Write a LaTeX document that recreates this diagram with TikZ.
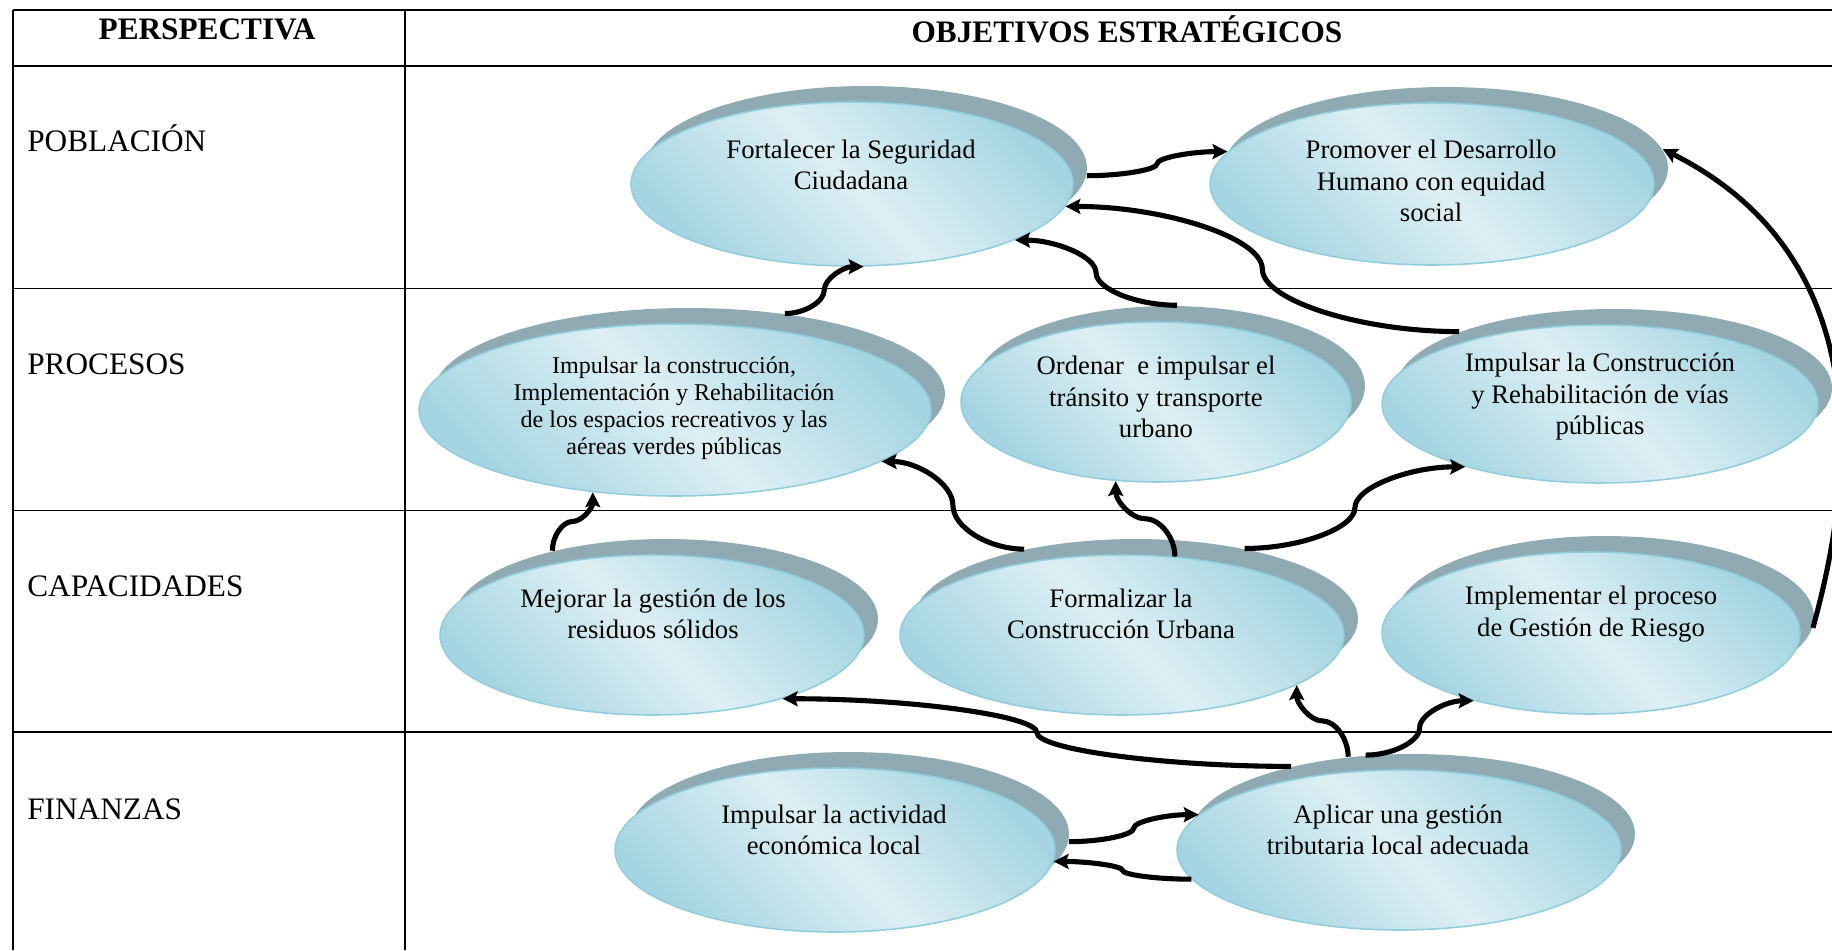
\documentclass[tikz,border=0pt]{standalone}
\usepackage{fontspec}
\setmainfont{Liberation Serif}
\usetikzlibrary{arrows.meta,shapes.geometric,shadows,calc}

\definecolor{sombra}{HTML}{8FAAB2}
\definecolor{borde}{HTML}{92CDDC}
\definecolor{celesteA}{HTML}{A5D5E2}
\definecolor{celesteB}{HTML}{DDEFF4}

\tikzset{
  tabla/.style={line width=1.1pt},
  objetivo/.style={ellipse, draw=borde, line width=0.9pt, inner sep=0pt,
    left color=celesteA, right color=celesteA, middle color=celesteB, shading angle=135,
    general shadow={fill=sombra, shadow xshift=0.28cm, shadow yshift=0.32cm}},
  cabecera/.style={font=\fontsize{17.8}{21}\selectfont\bfseries, inner sep=0pt},
  perspectiva/.style={font=\fontsize{17.8}{21}\selectfont, inner sep=0pt, anchor=base west},
  texto/.style={align=center, font=\fontsize{15.2}{17.9}\selectfont, inner sep=0pt},
  textochico/.style={align=center, font=\fontsize{13.7}{15.3}\selectfont, inner sep=0pt},
  flecha/.style={line width=2.9pt, -{Stealth[length=8.5pt,width=8.5pt,inset=1.5pt]}},
  curvah/.style={to path={let \p1=(\tikztostart), \p2=(\tikztotarget), \p3=($(\p1)!.5!(\p2)$) in
     .. controls ($(\p1)!.5!(\x3,\y1)$) and ($(\x3,\y1)!.5!(\p3)$) .. (\p3)
     .. controls ($(\p3)!.5!(\x3,\y2)$) and ($(\x3,\y2)!.5!(\p2)$) .. (\p2)}},
  curvav/.style={to path={let \p1=(\tikztostart), \p2=(\tikztotarget), \p3=($(\p1)!.5!(\p2)$) in
     .. controls ($(\p1)!.5!(\x1,\y3)$) and ($(\x1,\y3)!.5!(\p3)$) .. (\p3)
     .. controls ($(\p3)!.5!(\x2,\y3)$) and ($(\x2,\y3)!.5!(\p2)$) .. (\p2)}},
}

\begin{document}
\begin{tikzpicture}[x=0.02cm,y=-0.02cm]
	\useasboundingbox (0,0) rectangle (1832,950);
	
	% tabla
	\draw[tabla] (12.8,10) -- (1832,10);
	\draw[tabla] (12.8,66) -- (1832,66);
	\draw[tabla] (12.8,288.5) -- (1832,288.5);
	\draw[tabla] (12.8,510.5) -- (1832,510.5);
	\draw[tabla] (12.8,732) -- (1832,732);
	\draw[tabla] (12.8,10) -- (12.8,950);
	\draw[tabla] (405,10) -- (405,950);
	
	\node[cabecera] (hPers) at (207,29) {PERSPECTIVA};
	\node[cabecera] (hObj) at (1127,29) {OBJETIVOS ESTRATÉGICOS};
	
	\node[perspectiva] (pPob) at (27,151.5) {POBLACIÓN};
	\node[perspectiva] (pPro) at (27,374) {PROCESOS};
	\node[perspectiva] (pCap) at (27,596) {CAPACIDADES};
	\node[perspectiva] (pFin) at (27,819) {FINANZAS};
	
	% objetivos
	\node[objetivo, minimum width=8.84cm, minimum height=3.28cm] (fort) at (852,184) {};
	\node[objetivo, minimum width=8.88cm, minimum height=3.24cm] (prom) at (1432,184) {};
	\node[objetivo, minimum width=10.24cm, minimum height=3.44cm] (espa) at (675,410) {};
	\node[objetivo, minimum width=7.8cm, minimum height=3.2cm] (orde) at (1156,402) {};
	\node[objetivo, minimum width=8.72cm, minimum height=3.16cm] (vias) at (1600,404) {};
	\node[objetivo, minimum width=8.48cm, minimum height=3.2cm] (mejo) at (652,635) {};
	\node[objetivo, minimum width=8.88cm, minimum height=3.2cm] (form) at (1122,635) {};
	\node[objetivo, minimum width=8.36cm, minimum height=3.24cm] (impl) at (1591,633) {};
	\node[objetivo, minimum width=8.8cm, minimum height=3.28cm] (acti) at (835,850) {};
	\node[objetivo, minimum width=8.88cm, minimum height=3.2cm] (apli) at (1399,850) {};
	
	\node[texto] (fortT) at (851,165) {Fortalecer la Seguridad\\Ciudadana};
	\node[texto] (promT) at (1431,181) {Promover el Desarrollo\\Humano con equidad\\social};
	\node[textochico] (espaT) at (674,408) {Impulsar la construcción,\\Implementación y Rehabilitación\\de los espacios recreativos y las\\aéreas verdes públicas};
	\node[texto] (ordeT) at (1156,397) {Ordenar~ e impulsar el\\tránsito y transporte\\urbano};
	\node[texto] (viasT) at (1600,397) {Impulsar la Construcción\\y Rehabilitación de vías\\públicas};
	\node[texto] (mejoT) at (653,614) {Mejorar la gestión de los\\residuos sólidos};
	\node[texto] (formT) at (1121,614) {Formalizar la\\Construcción Urbana};
	\node[texto] (implT) at (1591,614) {Implementar el proceso\\de Gestión de Riesgo};
	\node[texto] (actiT) at (834,830) {Impulsar la actividad\\económica local};
	\node[texto] (apliT) at (1398,830) {Aplicar una gestión\\tributaria local adecuada};
	
	% relaciones
	\draw[flecha] ([shift={(14,-16)}]fort.-2) to[curvah] (prom.171);
	\draw[flecha] ([shift={(14,-16)}]vias.160) to[curvah] (fort.-6);
	\draw[flecha] ([shift={(14,-16)}]orde.85) to[curvah] (fort.-19);
	\draw[flecha] ([shift={(14,-16)}]espa.40) to[curvah] (fort.-82);
	\draw[flecha] ([shift={(14,-16)}]form.148) to[curvah] (espa.-14);
	\draw[flecha] (form.56) to[curvav] (orde.-117);
	\draw[flecha] ([shift={(14,-16)}]form.33) to[curvah] (vias.-155);
	\draw[flecha] ([shift={(14,-16)}]mejo.149) to[curvav] (espa.-135);
	\draw[flecha] ([shift={(14,-16)}]apli.151) to[curvah] (mejo.-26);
	\draw[flecha] ([shift={(14,-16)}]apli.130) to[curvav] (form.-16);
	\draw[flecha] ([shift={(14,-16)}]apli.121) to[curvah] (impl.-150);
	\draw[flecha] ([shift={(14,-16)}]impl.-3) .. controls +(58,-208) and +(183,92) .. ([shift={(14,-16)}]prom.5);
	\draw[flecha] ([shift={(14,-16)}]acti.-2) to[curvah] (apli.170);
	\draw[flecha] (apli.-172) to[curvah] (acti.-3);
\end{tikzpicture}
\end{document}
